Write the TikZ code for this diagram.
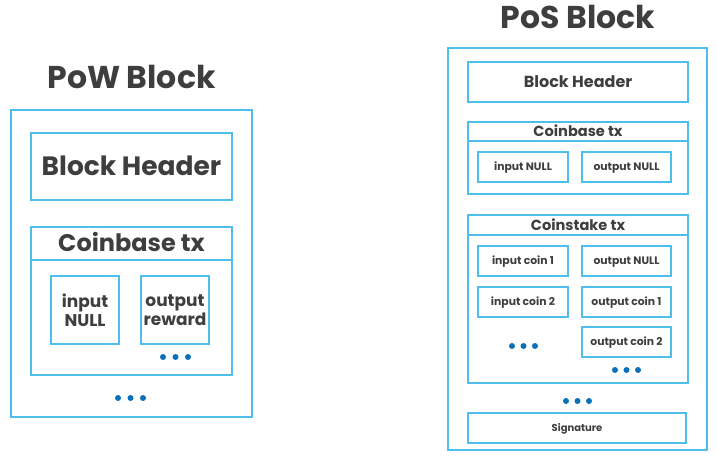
\documentclass[tikz,border=0pt]{standalone}
\usepackage{fontspec}
\setmainfont{Poppins}
\usetikzlibrary{positioning}
\definecolor{frame}{RGB}{78,190,236}
\definecolor{dotblue}{RGB}{10,112,186}
\definecolor{ink}{RGB}{62,62,62}

\begin{document}
\begin{tikzpicture}[
  x=1pt,y=-1pt,
  font=\bfseries,
  box/.style={rectangle,draw=frame,line width=2pt,text=ink,inner sep=0pt},
  title/.style={text=ink,font=\fontsize{31.5}{34}\selectfont\bfseries},
  capline/.style={text height=#1,text depth=0pt},
  big/.style={capline=18.5pt,font=\fontsize{26.5}{28}\selectfont\bfseries},
  bigtx/.style={capline=16.8pt,font=\fontsize{24}{28}\selectfont\bfseries},
  mid/.style={font=\fontsize{17}{21}\selectfont\bfseries,align=center},
  hdr/.style={capline=11.2pt,font=\fontsize{16}{18}\selectfont\bfseries},
  sml/.style={capline=10.2pt,font=\fontsize{14.6}{16}\selectfont\bfseries},
  tiny/.style={capline=7.6pt,font=\fontsize{10.8}{12}\selectfont\bfseries},
  sig/.style={capline=7pt,font=\fontsize{10}{12}\selectfont\bfseries},
  dot/.style={fill=dotblue},
]
\useasboundingbox (0,0) rectangle (717,462);
% PoW block
\node[title] (powtitle) at (131.5,77) {PoW Block};
\node[box,minimum width=241,minimum height=307] (pow) at (131.5,263.5) {};
\node[box,big,minimum width=201,minimum height=67] (powhdr) at (131.5,166.5) {Block Header};
\node[box,minimum width=201,minimum height=148] (powcb) at (131.5,301) {};
\node[box,bigtx,minimum width=201,minimum height=33] (powcbt) at (131.5,243.5) {Coinbase tx};
\node[box,mid,minimum width=68,minimum height=68] (powin) at (85,310) {input\\[-2pt]NULL};
\node[box,mid,minimum width=68,minimum height=68] (powout) at (175,310) {output\\[-2pt]reward};
\fill[dot] (163,357) circle (3) (175.5,357) circle (3) (188,357) circle (3);
\fill[dot] (118,398) circle (3) (130.5,398) circle (3) (143,398) circle (3);
% PoS block
\node[title] (postitle) at (578,17) {PoS Block};
\node[box,minimum width=259,minimum height=402] (pos) at (577.5,249) {};
\node[box,hdr,minimum width=220,minimum height=40] (poshdr) at (578,82) {Block Header};
\node[box,minimum width=220,minimum height=72] (poscb) at (578,158) {};
\node[box,sml,minimum width=220,minimum height=19] (poscbt) at (578,131.5) {Coinbase tx};
\node[box,tiny,minimum width=90,minimum height=30] (poscbin) at (523,167) {input NULL};
\node[box,tiny,minimum width=89,minimum height=30] (poscbout) at (626.5,167) {output NULL};
\node[box,minimum width=220,minimum height=168] (poscs) at (578,299) {};
\node[box,sml,minimum width=220,minimum height=20] (poscst) at (578,225) {Coinstake tx};
\node[box,tiny,minimum width=90,minimum height=30] (posin1) at (523,261) {input coin 1};
\node[box,tiny,minimum width=90,minimum height=30] (posin2) at (523,302) {input coin 2};
\node[box,tiny,minimum width=89,minimum height=30] (posout0) at (626.5,261) {output NULL};
\node[box,tiny,minimum width=89,minimum height=30] (posout1) at (626.5,302) {output coin 1};
\node[box,tiny,minimum width=89,minimum height=30] (posout2) at (626.5,342) {output coin 2};
\fill[dot] (512,346) circle (3) (523.5,346) circle (3) (535,346) circle (3);
\fill[dot] (615,370) circle (3) (626.5,370) circle (3) (638,370) circle (3);
\fill[dot] (566,401) circle (3) (577.5,401) circle (3) (589,401) circle (3);
\node[box,sig,minimum width=218,minimum height=30] (possig) at (577,428) {Signature};
\end{tikzpicture}
\end{document}
